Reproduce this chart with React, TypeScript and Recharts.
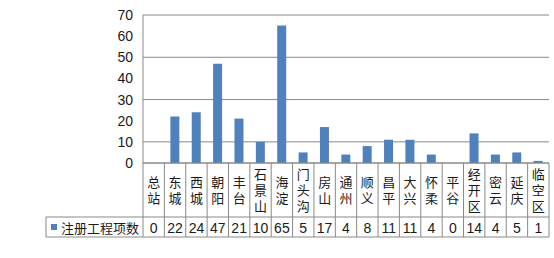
import React from 'react';
import { BarChart, Bar, XAxis, YAxis, CartesianGrid } from 'recharts';

const categories = ['总站', '东城', '西城', '朝阳', '丰台', '石景山', '海淀', '门头沟', '房山', '通州', '顺义', '昌平', '大兴', '怀柔', '平谷', '经开区', '密云', '延庆', '临空区'];
const projectCounts = [0, 22, 24, 47, 21, 10, 65, 5, 17, 4, 8, 11, 11, 4, 0, 14, 4, 5, 1];
const yTicks = [0, 10, 20, 30, 40, 50, 60, 70];
const seriesName = '注册工程项数';

const CHART_W = 554;
const CHART_H = 258;
const MARGIN = { top: 15, right: 5, left: 0, bottom: 0 };
const Y_AXIS_W = 143;
const X_AXIS_H = 95;
const PLOT_LEFT = MARGIN.left + Y_AXIS_W;
const PLOT_RIGHT = CHART_W - MARGIN.right;
const PLOT_BOTTOM = CHART_H - MARGIN.bottom - X_AXIS_H;
const CAT_ROW_H = 54;
const VAL_ROW_H = 20;
const LEGEND_LEFT = 46;

const LINE = '#898989';
const BAR = '#4F81BD';
const TEXT = '#1a1a1a';
const CJK = '"Noto Sans CJK SC", sans-serif';
const NUM = '"Liberation Sans", Arial, sans-serif';

const data = categories.map((name, i) => ({ name, value: projectCounts[i] }));

// category name written top-to-bottom + value cell, drawn as a data table under the axis
const TableTick = (props: any) => {
  const { x, payload, index } = props;
  const colW = (PLOT_RIGHT - PLOT_LEFT) / categories.length;
  const left = x - colW / 2;
  const right = x + colW / 2;
  const top = PLOT_BOTTOM;
  const valTop = top + CAT_ROW_H;
  const bottom = valTop + VAL_ROW_H;

  return (
    <g>
      <line x1={left} x2={left} y1={top} y2={bottom} stroke={LINE} />
      {index === categories.length - 1 && (
        <line x1={right} x2={right} y1={top} y2={bottom} stroke={LINE} />
      )}
      <line x1={index === 0 ? LEGEND_LEFT : left} x2={right} y1={valTop} y2={valTop} stroke={LINE} />
      <line x1={index === 0 ? LEGEND_LEFT : left} x2={right} y1={bottom} y2={bottom} stroke={LINE} />
      {index === 0 && (
        <g>
          <line x1={LEGEND_LEFT} x2={LEGEND_LEFT} y1={valTop} y2={bottom} stroke={LINE} />
          <rect x={LEGEND_LEFT + 5} y={valTop + 7} width={6} height={6} fill={BAR} />
          <text x={LEGEND_LEFT + 15} y={valTop + VAL_ROW_H / 2} dominantBaseline="central" fontSize={13} fontFamily={CJK} fill={TEXT}>
            {seriesName}
          </text>
        </g>
      )}
      <text
        x={x}
        y={top + CAT_ROW_H / 2 + 1.5}
        textAnchor="middle"
        fontSize={13}
        letterSpacing={3}
        fontFamily={CJK}
        fill={TEXT}
        style={{ writingMode: 'vertical-rl' }}
      >
        {payload.value}
      </text>
      <text x={x} y={valTop + VAL_ROW_H / 2 + 1} textAnchor="middle" dominantBaseline="central" fontSize={14} fontFamily={NUM} fill={TEXT}>
        {projectCounts[index]}
      </text>
    </g>
  );
};

export default function App() {
  return (
    <div style={{ position: 'absolute', left: 0, top: 0, width: CHART_W, height: CHART_H, background: '#fff' }}>
      <BarChart width={CHART_W} height={CHART_H} data={data} margin={MARGIN}>
        <CartesianGrid vertical={false} stroke={LINE} />
        <XAxis
          dataKey="name"
          height={X_AXIS_H}
          interval={0}
          tickLine={false}
          axisLine={{ stroke: LINE }}
          tick={<TableTick />}
        />
        <YAxis
          width={Y_AXIS_W}
          domain={[0, 70]}
          ticks={yTicks}
          tickLine={false}
          axisLine={{ stroke: LINE }}
          tickMargin={4}
          tick={{ fontSize: 14, fontFamily: NUM, fill: TEXT }}
        />
        <Bar dataKey="value" name={seriesName} fill={BAR} barSize={9} isAnimationActive={false} />
      </BarChart>
    </div>
  );
}
